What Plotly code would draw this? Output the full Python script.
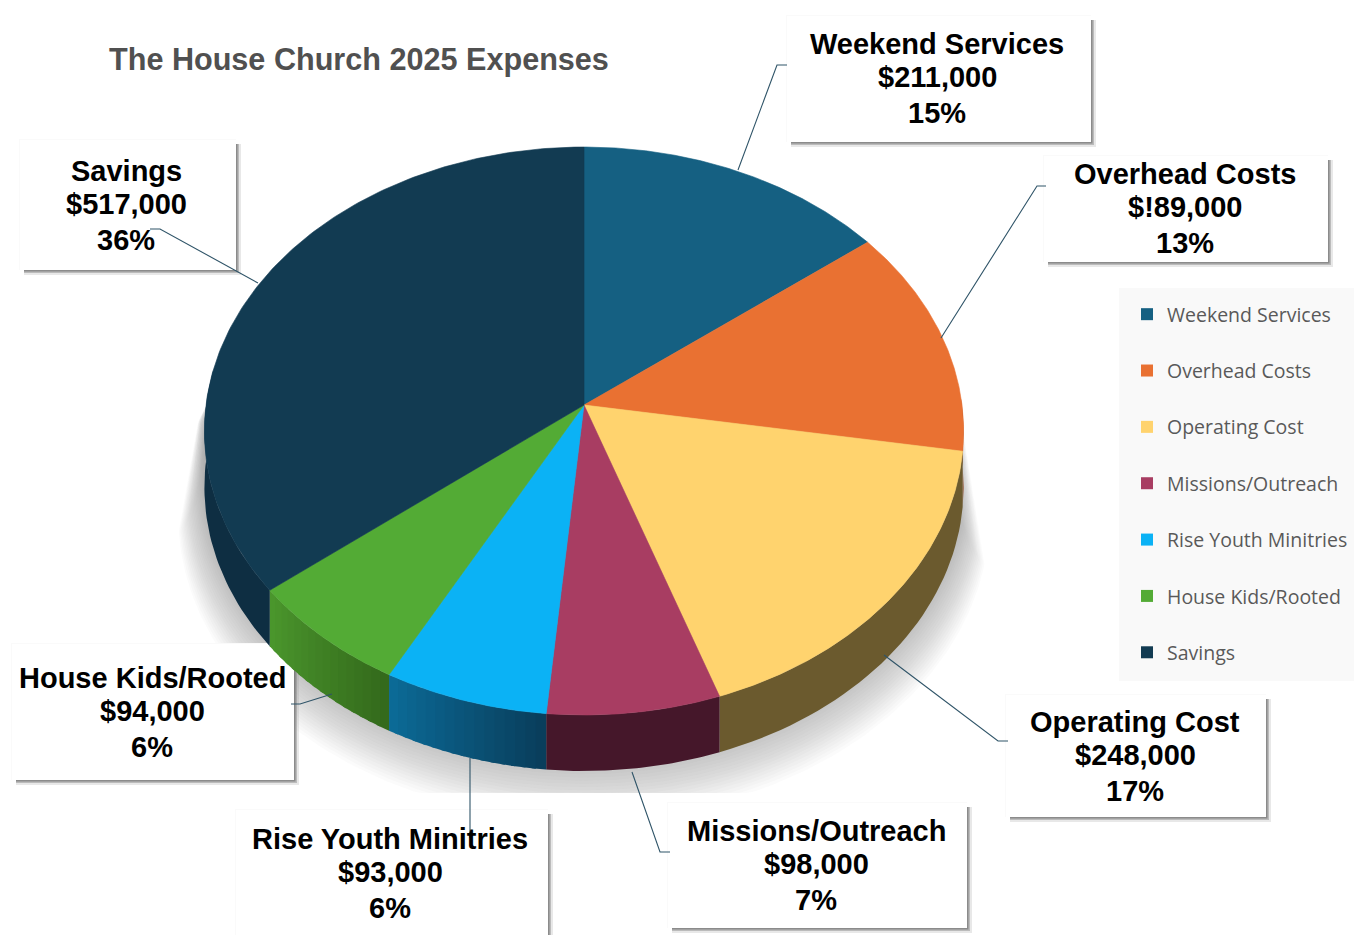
import numpy as np
import plotly.graph_objects as go

# ---------- data ----------
categories = ["Weekend Services", "Overhead Costs", "Operating Cost", "Missions/Outreach",
              "Rise Youth Minitries", "House Kids/Rooted", "Savings"]
values = [211000, 189000, 248000, 98000, 93000, 94000, 517000]
amount_labels = ["$211,000", "$!89,000", "$248,000", "$98,000", "$93,000", "$94,000", "$517,000"]
percent_labels = ["15%", "13%", "17%", "7%", "6%", "6%", "36%"]
title_text = "The House Church 2025 Expenses"

# ---------- styles ----------
top_colors = ["#156082", "#E97132", "#FFD36E", "#A83D62", "#0BB2F5", "#53AB35", "#123B52"]
side_start = [(12, 58, 78), (140, 68, 30), (107, 90, 46), (69, 23, 42), (9, 62, 92), (52, 106, 28), (14, 46, 66)]
side_end = [(12, 58, 78), (140, 68, 30), (107, 90, 46), (69, 23, 42), (11, 106, 150), (74, 150, 44), (14, 46, 66)]

W, H = 1354, 935
CX, CY, A, B, K = 584.0, 405.0, 378.0, 281.6, 0.0916
DEPTH = 56.0


def project(t):
    d = 1 + K * np.cos(t)
    return CX + A * np.sin(t) / d, CY - B * np.cos(t) / d


fracs = np.array(values, float) / sum(values)
edges = np.concatenate([[0], np.cumsum(fracs)]) * 2 * np.pi

fig = go.Figure()


def poly(x, y, color, lw=0.6):
    fig.add_trace(go.Scatter(x=x, y=y, mode="lines", fill="toself", fillcolor=color,
                             line=dict(width=lw, color=color), hoverinfo="skip",
                             showlegend=False))


# soft shadow: stacked translucent ellipses, clipped to the flared band under the pie
tt = np.linspace(0, 2 * np.pi, 360)
sx, sy = project(tt)
LAYERS = 24
for n in range(LAYERS):
    g = 1 - n / (LAYERS - 1)           # 1 = outermost layer, 0 = innermost
    scale = (A + 26 * g) / A
    lift = 30 + 55 * g
    x = CX + (sx - CX) * scale
    y = np.clip(431 + (sy - 431) * scale + lift, 380, 793)
    spread = 0.15 + 0.85 * g
    x = np.clip(x, 205 - 38 * spread * (y - 380) / 220, 955 + 35 * spread * (y - 380) / 220)
    poly(x, y, "rgba(100,100,100,0.026)", lw=0)

# callout boxes: x0, y0, x1, y1, text centre
boxes = [
    (787, 16, 1091, 142, 937),
    (1044, 156, 1328, 262, 1185),
    (1006, 695, 1266, 817, 1135),
    (668, 803, 967, 928, 816),
    (236, 810, 548, 960, 390),
    (12, 644, 294, 780, 152),
    (20, 140, 236, 270, 126),
]
text_tops = [44, 174, 722, 831, 839, 678, 171]


def rect(x0, y0, x1, y1, color):
    poly([x0, x1, x1, x0, x0], [y0, y0, y1, y1, y0], color, lw=0)


for (x0, y0, x1, y1, _) in boxes:
    rect(x0 + 4, y0 + 4, x1 + 5, y1 + 5, "rgba(130,130,130,0.18)")
    rect(x0 + 4, y0 + 4, x1 + 3, y1 + 3, "rgba(120,120,120,0.40)")
    rect(x0 + 4, y0 + 4, x1 + 1.5, y1 + 1.5, "rgba(100,100,100,0.55)")
    rect(x0 - 1, y0 - 1, x1, y1, "#FAFAFA")
    rect(x0, y0, x1, y1, "#FFFFFF")

# side walls (only the front half of the pie is visible)
STRIPS = 16
for i in range(len(values)):
    lo, hi = max(edges[i], np.pi / 2 * 0.98), min(edges[i + 1], 2 * np.pi * 0.77)
    if hi <= lo:
        continue
    n = STRIPS if side_start[i] != side_end[i] else 1
    cuts = np.linspace(lo, hi, n + 1)
    for s in range(n):
        f = s / max(n - 1, 1)
        c = [round(a + (b - a) * f) for a, b in zip(side_start[i], side_end[i])]
        color = f"rgb({c[0]},{c[1]},{c[2]})"
        # each strip overlaps its neighbour slightly so no seams show
        t = np.linspace(cuts[s], min(cuts[s] + (cuts[s + 1] - cuts[s]) * 1.4, hi), 40)
        x, y = project(t)
        poly(np.r_[x, x[::-1]], np.r_[y, y[::-1] + DEPTH], color, lw=0)

# top faces
for i in range(len(values)):
    t = np.linspace(edges[i], edges[i + 1], 160)
    x, y = project(t)
    poly(np.r_[CX, x, CX], np.r_[CY, y, CY], top_colors[i])

# leader lines
leaders = [
    ([738, 777, 787], [170, 65, 65]),
    ([941, 1037, 1046], [338, 186, 186]),
    ([884, 998, 1008], [655, 741, 741]),
    ([632, 660, 670], [772, 852, 852]),
    ([470, 470], [758, 838]),
    ([332, 300, 291], [694, 704, 704]),
    ([258, 160, 150], [283, 229, 229]),
]

shapes = [dict(type="rect", xref="x", yref="y", x0=1119, x1=1354, y0=288, y1=681,
               fillcolor="#F9F9F9", line=dict(width=0), layer="below")]
for lx, ly in leaders:
    path = "M" + " L".join(f"{a},{b}" for a, b in zip(lx, ly))
    shapes.append(dict(type="path", path=path, xref="x", yref="y",
                       line=dict(color="#2F5468", width=1.1), layer="above"))

annotations = [dict(text=f"<b>{title_text}</b>", x=107, y=59, xref="x", yref="y", xanchor="left",
                    yanchor="middle", showarrow=False,
                    font=dict(family="Liberation Sans", size=30.6, color="#505050"))]
for i, b in enumerate(boxes):
    for j, txt in enumerate([categories[i], amount_labels[i], percent_labels[i]]):
        annotations.append(dict(text=f"<b>{txt}</b>", x=b[4], y=text_tops[i] + [0, 33, 69][j],
                                xref="x", yref="y", xanchor="center", yanchor="middle",
                                showarrow=False,
                                font=dict(family="Liberation Sans", size=29, color="#000000")))

# legend entries
for i, c in enumerate(categories):
    fig.add_trace(go.Scatter(x=[None], y=[None], mode="markers", name=c, legendgroup=c,
                             marker=dict(symbol="square", size=12, color=top_colors[i])))

fig.update_layout(
    width=W, height=H, autosize=False, margin=dict(l=0, r=0, t=0, b=0),
    paper_bgcolor="#FFFFFF", plot_bgcolor="#FFFFFF",
    xaxis=dict(range=[0, W], visible=False, fixedrange=True),
    yaxis=dict(range=[H, 0], visible=False, fixedrange=True),
    shapes=shapes, annotations=annotations,
    legend=dict(x=1141 / W, y=1 - 295 / H, xanchor="left", yanchor="top",
                bgcolor="rgba(0,0,0,0)", tracegroupgap=28, itemwidth=30, indentation=-14,
                font=dict(family="Open Sans", size=19.5, color="#595959")),
)
fig.write_html("out.html", config={"displayModeBar": False},
               post_script="document.body.style.margin='0';")
